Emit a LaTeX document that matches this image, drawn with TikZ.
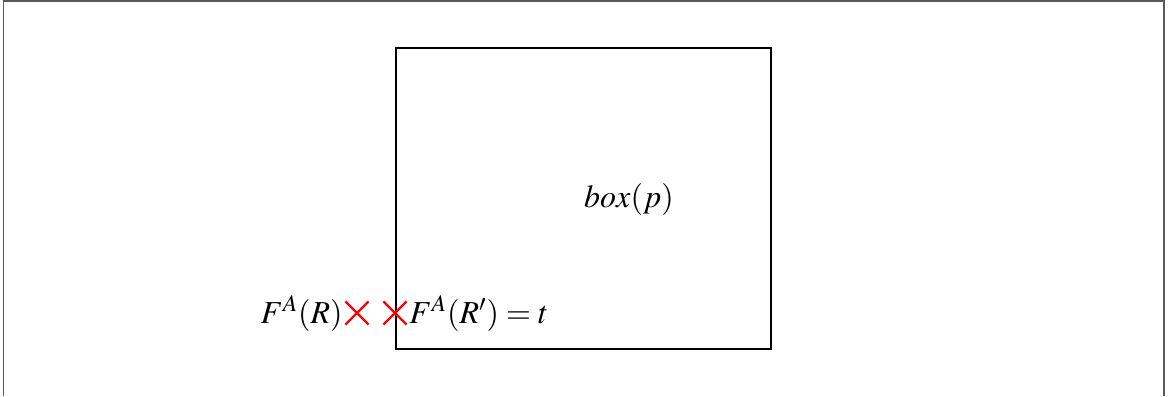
\documentclass[tikz,border=0pt]{standalone}
\usepackage{mathptmx}
\usetikzlibrary{shapes.misc}
\begin{document}
\begin{tikzpicture}[x=0.5pt,y=-0.5pt,
  xmark/.style={cross out,draw=red,line width=1.1pt,minimum size=10.5pt,inner sep=0pt},
  lbl/.style={inner sep=0pt,font=\fontsize{16}{19}\selectfont},
  boxnode/.style={draw,line width=1pt,minimum width=187.5pt,minimum height=150.5pt,inner sep=0pt}]
\useasboundingbox (0,0) rectangle (1170,396);
\draw[gray!70!black,line width=0.8pt] (3.5,396) -- (3.5,1) -- (1164,1) -- (1164,396);
\node[boxnode] (bx) at (583.5,198.5) {};
\node[lbl,anchor=base] (bp) at (629,207) {$box(p)$};
\node[xmark] (c1) at (357,313) {};
\node[xmark] (c2) at (395,313) {};
\node[lbl,anchor=base east] (l1) at (343,323) {$F^A(R)$};
\node[lbl,anchor=base west] (l2) at (409,323) {$F^A(R')=t$};
\end{tikzpicture}
\end{document}
